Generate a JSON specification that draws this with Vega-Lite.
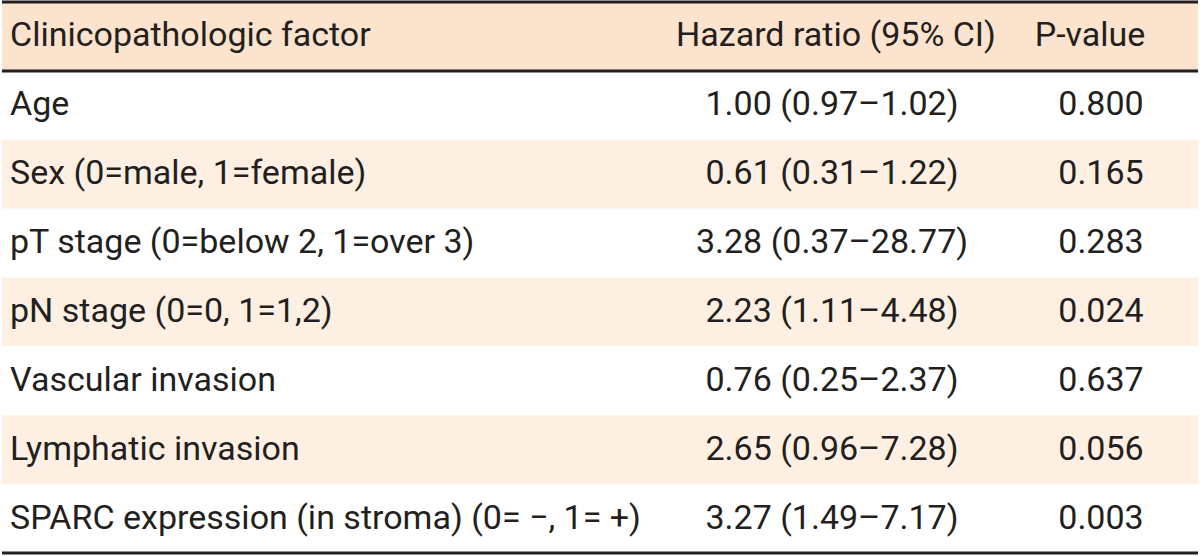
{
  "$schema": "https://vega.github.io/schema/vega-lite/v6.json",
  "width": 1200,
  "height": 556,
  "autosize": {"type": "fit", "contains": "padding"},
  "padding": 0,
  "background": "white",
  "config": {"view": {"stroke": null}, "text": {"font": "Roboto", "fontSize": 34, "color": "#231f20", "baseline": "middle"}},
  "data": {"values": [
    {"factor": "Clinicopathologic factor", "hr": "Hazard ratio (95% CI)", "p": "P-value", "kind": "header"},
    {"factor": "Age", "hr": "1.00 (0.97–1.02)", "p": "0.800", "kind": "body"},
    {"factor": "Sex (0=male, 1=female)", "hr": "0.61 (0.31–1.22)", "p": "0.165", "kind": "body"},
    {"factor": "pT stage (0=below 2, 1=over 3)", "hr": "3.28 (0.37–28.77)", "p": "0.283", "kind": "body"},
    {"factor": "pN stage (0=0, 1=1,2)", "hr": "2.23 (1.11–4.48)", "p": "0.024", "kind": "body"},
    {"factor": "Vascular invasion", "hr": "0.76 (0.25–2.37)", "p": "0.637", "kind": "body"},
    {"factor": "Lymphatic invasion", "hr": "2.65 (0.96–7.28)", "p": "0.056", "kind": "body"},
    {"factor": "SPARC expression (in stroma) (0= −, 1= +)", "hr": "3.27 (1.49–7.17)", "p": "0.003", "kind": "body"}
  ]},
  "transform": [{"window": [{"op": "row_number", "as": "idx"}]}],
  "encoding": {
    "y": {
      "field": "factor", "type": "ordinal", "sort": null, "axis": null,
      "scale": {"type": "band", "paddingInner": 0, "paddingOuter": 0, "range": [2, 553]}
    }
  },
  "layer": [
    {
      "mark": {"type": "rect"},
      "encoding": {
        "x": {"value": 0},
        "x2": {"value": "width"},
        "color": {
          "condition": [
            {"test": "datum.idx === 1", "value": "#fbe3cd"},
            {"test": "datum.idx % 2 === 1", "value": "#fdf0e3"}
          ],
          "value": "#ffffff"
        }
      }
    },
    {
      "mark": {"type": "text", "align": "left"},
      "encoding": {
        "x": {"datum": 8, "type": "quantitative", "axis": null, "scale": {"domain": [0, 1200], "range": [0, 1200], "nice": false, "zero": false}},
        "text": {"field": "factor"}
      }
    },
    {
      "transform": [{"filter": "datum.kind === 'body'"}],
      "mark": {"type": "text", "align": "center"},
      "encoding": {
        "x": {"datum": 830, "type": "quantitative"},
        "text": {"field": "hr"}
      }
    },
    {
      "transform": [{"filter": "datum.kind === 'body'"}],
      "mark": {"type": "text", "align": "center"},
      "encoding": {
        "x": {"datum": 1099, "type": "quantitative"},
        "text": {"field": "p"}
      }
    },
    {
      "transform": [{"filter": "datum.kind === 'header'"}],
      "mark": {"type": "text", "align": "center"},
      "encoding": {
        "x": {"datum": 834, "type": "quantitative"},
        "text": {"field": "hr"}
      }
    },
    {
      "transform": [{"filter": "datum.kind === 'header'"}],
      "mark": {"type": "text", "align": "center"},
      "encoding": {
        "x": {"datum": 1088, "type": "quantitative"},
        "text": {"field": "p"}
      }
    },
    {
      "transform": [{"filter": "datum.idx <= 2"}],
      "mark": {"type": "rule", "strokeWidth": 3, "color": "#231f20"},
      "encoding": {
        "y": {"field": "factor", "type": "ordinal", "sort": null, "bandPosition": 0},
        "x": {"value": 0},
        "x2": {"value": "width"}
      }
    },
    {
      "transform": [{"filter": "datum.idx === 8"}],
      "mark": {"type": "rule", "strokeWidth": 3, "color": "#231f20"},
      "encoding": {
        "y": {"field": "factor", "type": "ordinal", "sort": null, "bandPosition": 1},
        "x": {"value": 0},
        "x2": {"value": "width"}
      }
    }
  ]
}
